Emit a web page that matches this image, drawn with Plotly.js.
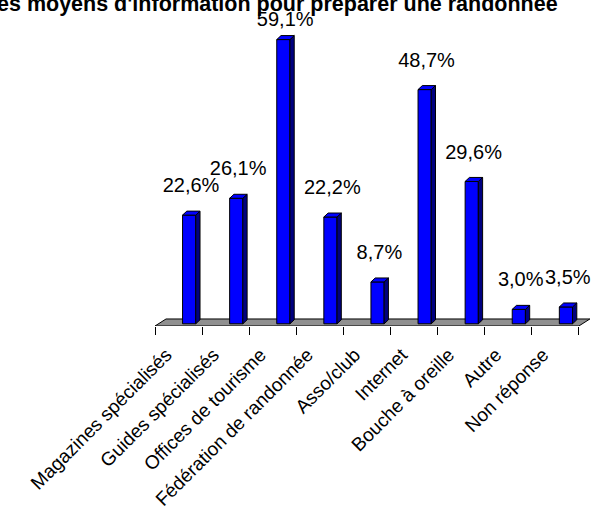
<!DOCTYPE html>
<html><head><meta charset="utf-8">
<script src="https://cdn.plot.ly/plotly-3.0.1.min.js"></script>
<style>html,body{margin:0;padding:0;background:#fff;overflow:hidden}</style>
</head><body><div id="chart" style="width:599px;height:513px"></div>
<script>
// ---- data ----
const categories = ["Magazines spécialisés", "Guides spécialisés", "Offices de tourisme", "Fédération de randonnée", "Asso/club", "Internet", "Bouche à oreille", "Autre", "Non réponse"];
const values = [22.6, 26.1, 59.1, 22.2, 8.7, 48.7, 29.6, 3.0, 3.5];
const valueLabels = ["22,6%", "26,1%", "59,1%", "22,2%", "8,7%", "48,7%", "29,6%", "3,0%", "3,5%"];
const titleText = "Les moyens d'information pour préparer une randonnée";

// ---- style (3D look) ----
const barOffset = 0.725, barWidth = 0.28;   // bar position inside each category slot
const depthX = 0.091, depthY = 0.83;         // bar depth
const floorDX = 0.234, floorDY = 1.46;       // floor depth
const yMin = -0.46, yMax = 64;
const labelGap = 5.8, labelMax = 62.9;
const labelShiftX = 0.04, tickShiftX = -0.26;

const n = categories.length;
const idx = categories.map((_, i) => i);
const barX = idx.map(i => i + barOffset);

const sideX = [], sideY = [], topX = [], topY = [];
values.forEach((v, i) => {
  const xl = barX[i] - barWidth / 2, xr = barX[i] + barWidth / 2;
  sideX.push(xr, xr + depthX, xr + depthX, xr, xr, null);
  sideY.push(0, depthY, v + depthY, v, 0, null);
  topX.push(xl, xl + depthX, xr + depthX, xr, xl, null);
  topY.push(v, v + depthY, v + depthY, v, v, null);
});

const fam = "Arial, 'Liberation Sans', sans-serif";
const labelFont = {family: fam, size: 20, color: "#000"};
const tickFont = {family: fam, size: 19, color: "#000"};

const traces = [
  {type: "bar", x: barX, y: values, width: barWidth, xaxis: "x", yaxis: "y",
   marker: {color: "#0000FF", line: {color: "#000", width: 1}}, hoverinfo: "skip"},
  {type: "scatter", mode: "lines", x: sideX, y: sideY, fill: "toself", fillcolor: "#000080",
   line: {color: "#000", width: 1}, hoverinfo: "skip"},
  {type: "scatter", mode: "lines", x: topX, y: topY, fill: "toself", fillcolor: "#0000FF",
   line: {color: "#000", width: 1}, hoverinfo: "skip"},
  {type: "scatter", mode: "text", x: barX.map(x => x + labelShiftX),
   y: values.map(v => Math.min(v + labelGap, labelMax)), text: valueLabels,
   textposition: "middle center", textfont: labelFont, cliponaxis: false, hoverinfo: "skip"}
];

const floorPath = `M 0 ${yMin} L ${n} ${yMin} L ${n + floorDX} ${yMin + floorDY} L ${floorDX} ${yMin + floorDY} Z`;

const layout = {
  width: 599, height: 513,
  margin: {l: 155, r: 6, t: 16, b: 187, pad: 0},
  paper_bgcolor: "#fff", plot_bgcolor: "rgba(0,0,0,0)",
  showlegend: false, barmode: "overlay",
  title: {text: titleText, font: {family: fam, size: 21.5, color: "#000", weight: "bold"},
          xref: "container", x: 0.452, xanchor: "center", yref: "container", y: 1 - 3 / 513, yanchor: "middle"},
  xaxis: {range: [0, n + 0.3], tickmode: "array", tickvals: idx.map(i => i + 0.5 + tickShiftX), ticktext: categories,
          tickangle: -45, ticks: "", ticklabelstandoff: 13, showgrid: false, zeroline: false, showline: false,
          tickfont: tickFont, fixedrange: true},
  xaxis2: {range: [0, n + 0.3], overlaying: "x", side: "bottom", tickmode: "array",
           tickvals: idx.concat([n]), ticks: "outside", ticklen: 8, tickwidth: 1, tickcolor: "#000",
           showticklabels: false, showgrid: false, zeroline: false, showline: false, fixedrange: true},
  yaxis: {range: [yMin, yMax], visible: false, fixedrange: true},
  shapes: [{type: "path", xref: "x", yref: "y", path: floorPath, fillcolor: "#909090",
            line: {color: "#000", width: 1}, layer: "below"}]
};

// invisible trace so that the tick-mark axis (xaxis2) is drawn
traces.push({type: "scatter", x: [0], y: [yMin], xaxis: "x2", yaxis: "y", mode: "markers",
             marker: {opacity: 0}, hoverinfo: "skip"});

Plotly.newPlot("chart", traces, layout, {staticPlot: true, displayModeBar: false});
</script></body></html>
